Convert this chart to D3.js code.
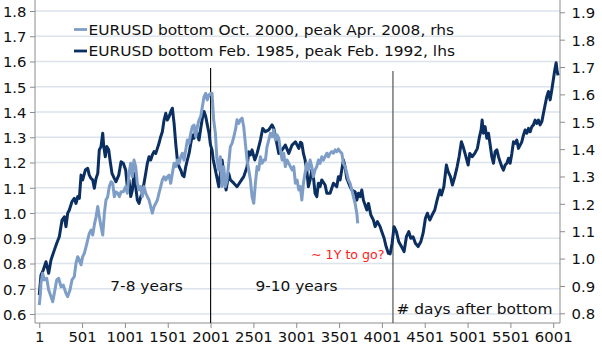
<!DOCTYPE html>
<html><head><meta charset="utf-8">
<script src="https://cdn.jsdelivr.net/npm/d3@7/dist/d3.min.js"></script>
<style>
html,body{margin:0;padding:0;background:#fff;}
svg{display:block;font-family:"DejaVu Sans",Verdana,sans-serif;}
</style>
</head><body>
<svg id="chart" width="602" height="350"></svg>
<script>
// ---------- data ----------
const xTicks = [1,501,1001,1501,2001,2501,3001,3501,4001,4501,5001,5501,6001];
const leftTicks = [0.6,0.7,0.8,0.9,1.0,1.1,1.2,1.3,1.4,1.5,1.6,1.7,1.8];
const rightTicks = [0.8,0.9,1.0,1.1,1.2,1.3,1.4,1.5,1.6,1.7,1.8,1.9];
const legendLabels = [
  "EURUSD bottom Oct. 2000, peak Apr. 2008, rhs",
  "EURUSD bottom Feb. 1985, peak Feb. 1992, lhs"
];
const markerDays = [2001, 4130];
const annotationTexts = ["7-8 years","9-10 years","# days after bottom","~ 1Y to go?"];

// Feb 1985 cycle, left axis  [day, value]
const darkSeries = [[1,0.675],[21,0.754],[48,0.774],[80,0.807],[111,0.761],[138,0.814],[177,0.853],[205,0.880],[235,0.906],[267,0.972],[294,0.985],[313,0.946],[333,0.999],[352,1.012],[383,1.045],[410,1.058],[430,1.038],[450,1.065],[469,1.058],[489,1.150],[508,1.131],[539,1.170],[567,1.177],[585,1.150],[605,1.137],[625,1.131],[644,1.098],[664,1.137],[684,1.157],[702,1.250],[722,1.263],[742,1.316],[754,1.263],[772,1.223],[789,1.263],[812,1.250],[827,1.210],[850,1.157],[877,1.137],[897,1.124],[929,1.150],[956,1.203],[982,1.197],[1010,1.170],[1029,1.104],[1049,1.131],[1069,1.065],[1088,1.091],[1107,1.157],[1127,1.104],[1146,1.051],[1166,1.038],[1186,1.065],[1204,1.078],[1224,1.118],[1244,1.157],[1263,1.197],[1283,1.223],[1302,1.210],[1321,1.230],[1341,1.243],[1361,1.236],[1380,1.256],[1399,1.276],[1419,1.302],[1438,1.322],[1458,1.368],[1478,1.395],[1496,1.368],[1516,1.381],[1536,1.401],[1555,1.415],[1575,1.355],[1594,1.276],[1613,1.210],[1633,1.183],[1653,1.170],[1672,1.150],[1691,1.144],[1711,1.183],[1730,1.210],[1750,1.236],[1770,1.276],[1788,1.309],[1808,1.296],[1828,1.335],[1847,1.309],[1866,1.289],[1886,1.335],[1905,1.375],[1925,1.402],[1945,1.381],[1963,1.349],[1983,1.316],[2000,1.270],[2018,1.250],[2033,1.210],[2057,1.170],[2097,1.104],[2116,1.157],[2135,1.210],[2155,1.157],[2182,1.091],[2213,1.157],[2232,1.131],[2272,1.118],[2310,1.104],[2349,1.124],[2388,1.144],[2427,1.183],[2447,1.243],[2466,1.230],[2485,1.250],[2517,1.210],[2544,1.236],[2583,1.289],[2610,1.335],[2641,1.322],[2680,1.329],[2719,1.349],[2739,1.335],[2766,1.289],[2797,1.236],[2836,1.250],[2874,1.269],[2914,1.236],[2952,1.269],[2991,1.282],[3031,1.256],[3050,1.280],[3066,1.276],[3085,1.236],[3104,1.210],[3124,1.170],[3143,1.104],[3163,1.131],[3182,1.170],[3201,1.144],[3221,1.078],[3241,1.065],[3260,1.118],[3279,1.104],[3299,1.131],[3338,1.111],[3358,1.078],[3396,1.078],[3435,1.118],[3474,1.104],[3493,1.144],[3513,1.131],[3552,1.210],[3571,1.183],[3591,1.137],[3630,1.104],[3650,1.091],[3688,1.084],[3708,1.051],[3727,1.078],[3747,1.065],[3766,1.091],[3785,1.051],[3825,1.012],[3844,1.038],[3872,0.992],[3902,0.972],[3922,0.946],[3949,0.966],[3980,0.946],[4000,0.926],[4027,0.900],[4050,0.867],[4077,0.840],[4097,0.838],[4120,0.880],[4143,0.946],[4170,0.926],[4198,0.886],[4229,0.867],[4260,0.847],[4287,0.906],[4315,0.926],[4338,0.900],[4365,0.906],[4392,0.880],[4424,0.867],[4455,0.886],[4482,0.920],[4509,0.979],[4532,0.999],[4560,0.972],[4587,0.992],[4618,1.012],[4645,1.051],[4677,1.091],[4696,1.071],[4724,1.104],[4754,1.190],[4774,1.164],[4801,1.144],[4824,1.111],[4852,1.144],[4879,1.183],[4902,1.223],[4929,1.282],[4949,1.263],[4976,1.230],[5008,1.190],[5027,1.236],[5054,1.223],[5085,1.236],[5116,1.256],[5140,1.302],[5159,1.329],[5171,1.368],[5186,1.316],[5206,1.342],[5226,1.296],[5245,1.316],[5265,1.269],[5284,1.223],[5303,1.197],[5323,1.243],[5343,1.250],[5362,1.223],[5381,1.203],[5401,1.183],[5420,1.170],[5440,1.190],[5460,1.197],[5479,1.217],[5498,1.197],[5518,1.236],[5537,1.282],[5557,1.276],[5576,1.289],[5595,1.256],[5615,1.269],[5634,1.282],[5654,1.309],[5673,1.329],[5693,1.316],[5712,1.335],[5732,1.322],[5751,1.342],[5770,1.349],[5790,1.368],[5809,1.355],[5828,1.368],[5848,1.349],[5868,1.362],[5887,1.395],[5906,1.428],[5926,1.461],[5945,1.481],[5965,1.448],[5984,1.487],[6003,1.530],[6019,1.566],[6035,1.595],[6047,1.560],[6058,1.545]];

// Oct 2000 cycle, right axis  [day, value]
const lightSeries = [[1,0.830],[15,0.873],[21,0.910],[41,0.946],[60,0.922],[88,0.928],[111,0.885],[138,0.861],[158,0.842],[177,0.873],[205,0.922],[228,0.928],[255,0.897],[282,0.903],[313,0.873],[333,0.861],[360,0.885],[383,0.922],[410,0.934],[430,0.983],[450,1.007],[469,0.995],[489,0.977],[508,1.007],[527,1.019],[547,1.043],[567,1.068],[585,1.092],[605,1.104],[625,1.086],[644,1.123],[664,1.153],[684,1.190],[702,1.153],[722,1.117],[742,1.086],[761,1.165],[780,1.214],[800,1.226],[819,1.263],[839,1.281],[859,1.275],[877,1.226],[897,1.244],[917,1.239],[936,1.226],[956,1.244],[982,1.244],[1010,1.263],[1029,1.239],[1049,1.312],[1069,1.348],[1088,1.299],[1107,1.360],[1127,1.336],[1146,1.275],[1166,1.251],[1186,1.263],[1204,1.226],[1224,1.263],[1244,1.239],[1263,1.226],[1283,1.214],[1302,1.190],[1321,1.166],[1341,1.190],[1361,1.202],[1380,1.214],[1399,1.239],[1419,1.263],[1438,1.287],[1458,1.299],[1478,1.287],[1496,1.299],[1516,1.305],[1536,1.275],[1555,1.312],[1575,1.348],[1594,1.336],[1613,1.360],[1633,1.348],[1653,1.372],[1672,1.385],[1691,1.360],[1711,1.397],[1730,1.433],[1750,1.421],[1770,1.458],[1788,1.482],[1808,1.488],[1828,1.445],[1847,1.482],[1866,1.507],[1886,1.519],[1905,1.555],[1925,1.592],[1945,1.604],[1963,1.580],[1983,1.598],[2003,1.604],[2018,1.604],[2037,1.507],[2057,1.458],[2076,1.360],[2096,1.324],[2115,1.372],[2135,1.263],[2155,1.336],[2174,1.263],[2193,1.287],[2213,1.348],[2232,1.409],[2252,1.421],[2272,1.445],[2291,1.470],[2310,1.507],[2330,1.494],[2349,1.507],[2369,1.513],[2388,1.482],[2407,1.421],[2427,1.360],[2447,1.324],[2466,1.287],[2485,1.226],[2505,1.202],[2524,1.275],[2544,1.336],[2563,1.324],[2583,1.372],[2602,1.348],[2622,1.360],[2641,1.360],[2660,1.409],[2680,1.433],[2699,1.458],[2719,1.445],[2739,1.470],[2758,1.433],[2777,1.452],[2797,1.440],[2816,1.397],[2836,1.360],[2855,1.385],[2874,1.336],[2894,1.360],[2914,1.348],[2952,1.324],[2972,1.336],[2991,1.275],[3011,1.287],[3031,1.251],[3049,1.263],[3066,1.214],[3085,1.275],[3104,1.312],[3124,1.348],[3143,1.324],[3163,1.360],[3182,1.336],[3201,1.299],[3221,1.324],[3241,1.336],[3260,1.360],[3279,1.348],[3299,1.372],[3318,1.360],[3338,1.372],[3358,1.385],[3377,1.372],[3396,1.385],[3416,1.391],[3435,1.385],[3455,1.397],[3474,1.391],[3493,1.400],[3513,1.391],[3533,1.385],[3552,1.348],[3571,1.336],[3591,1.312],[3610,1.287],[3630,1.275],[3650,1.251],[3668,1.226],[3688,1.202],[3708,1.166],[3719,1.129]];

// ---------- layout ----------
const plot = {left:35, right:560, top:0, bottom:323};
const SX = 1.1; // horizontal text stretch of the original
const darkColor = "#0c2f62", lightColor = "#7e9ec7";
const gridColor = "#dbe3ec", axisColor = "#8c8c8c";

const svg = d3.select("#chart");
const x = d3.scaleLinear().domain([-48.6, 6080]).range([plot.left, plot.right]);
const yL = d3.scaleLinear().domain([0.6, 1.8]).range([314, 11]);
const yR = d3.scaleLinear().domain([0.8, 1.9]).range([313.3, 12.3]);

function addText(px, py, str, size, anchor, fill) {
  return svg.append("text")
    .attr("transform", `translate(${px},${py}) scale(${SX},1)`)
    .attr("text-anchor", anchor || "start")
    .attr("font-size", size)
    .attr("fill", fill || "#111")
    .text(str);
}

// gridlines
svg.append("g").selectAll("line").data(leftTicks).join("line")
  .attr("x1", plot.left).attr("x2", plot.right)
  .attr("y1", d => yL(d)).attr("y2", d => yL(d))
  .attr("stroke", gridColor).attr("stroke-width", 1.3);

// axes
const fmt1 = d3.format(".1f");
const gL = svg.append("g").attr("transform", `translate(${plot.left},0)`)
  .call(d3.axisLeft(yL).tickValues(leftTicks).tickSize(5).tickFormat(fmt1));
gL.selectAll("text").attr("x", -8.5 / SX).attr("dy", "0.40em")
  .attr("transform", `scale(${SX},1)`);
const gR = svg.append("g").attr("transform", `translate(${plot.right},0)`)
  .call(d3.axisRight(yR).tickValues(rightTicks).tickSize(5).tickFormat(fmt1));
gR.selectAll("text").attr("x", 11.5 / SX).attr("dy", "0.40em")
  .attr("transform", `scale(${SX},1)`);
const gB = svg.append("g").attr("transform", `translate(0,${plot.bottom})`)
  .call(d3.axisBottom(x).tickValues(xTicks).tickSize(5).tickFormat(d3.format("d")));
gB.selectAll("text").attr("y", 9.3).attr("x", 0).attr("transform", `scale(${SX},1)`);
[gL, gR, gB].forEach(g => {
  g.select(".domain").remove();
  g.selectAll("line").attr("stroke", axisColor);
  g.selectAll("text").attr("font-size", 13.5).attr("fill", "#111")
    .attr("font-family", '"DejaVu Sans",Verdana,sans-serif');
});
// frame lines
svg.append("line").attr("x1", plot.left).attr("x2", plot.left).attr("y1", plot.top).attr("y2", plot.bottom).attr("stroke", axisColor);
svg.append("line").attr("x1", plot.right).attr("x2", plot.right).attr("y1", plot.top).attr("y2", plot.bottom).attr("stroke", axisColor);
svg.append("line").attr("x1", plot.left).attr("x2", plot.right).attr("y1", plot.bottom).attr("y2", plot.bottom).attr("stroke", axisColor);

// marker lines
const markerTops = [68, 71];
const markerColors = ["#111", "#555"];
svg.append("g").selectAll("line").data(markerDays).join("line")
  .attr("x1", d => x(d)).attr("x2", d => x(d))
  .attr("y1", (d,i) => markerTops[i]).attr("y2", plot.bottom)
  .attr("stroke", (d,i) => markerColors[i]).attr("stroke-width", 1.2);

// series
const lineL = d3.line().x(d => x(d[0])).y(d => yL(d[1]));
const lineR = d3.line().x(d => x(d[0])).y(d => yR(d[1]));
svg.append("path").datum(darkSeries).attr("d", lineL)
  .attr("fill", "none").attr("stroke", darkColor).attr("stroke-width", 3)
  .attr("stroke-linejoin", "round");
svg.append("path").datum(lightSeries).attr("d", lineR)
  .attr("fill", "none").attr("stroke", lightColor).attr("stroke-width", 3)
  .attr("stroke-linejoin", "round");

// legend
const legendColors = [lightColor, darkColor];
legendLabels.forEach((lab, i) => {
  const ly = 29.5 + i * 21.5;
  svg.append("line").attr("x1", 74).attr("x2", 87).attr("y1", ly).attr("y2", ly)
    .attr("stroke", legendColors[i]).attr("stroke-width", 2.8);
  addText(88.5, ly + 5, lab, 14);
});

// annotations
addText(146.5, 291, annotationTexts[0], 14, "middle");
addText(296.5, 291, annotationTexts[1], 14, "middle");
addText(396.5, 314, annotationTexts[2], 14, "start");
addText(311, 258.5, annotationTexts[3], 11.5, "start", "#ff1a1a");
</script>
</body></html>
